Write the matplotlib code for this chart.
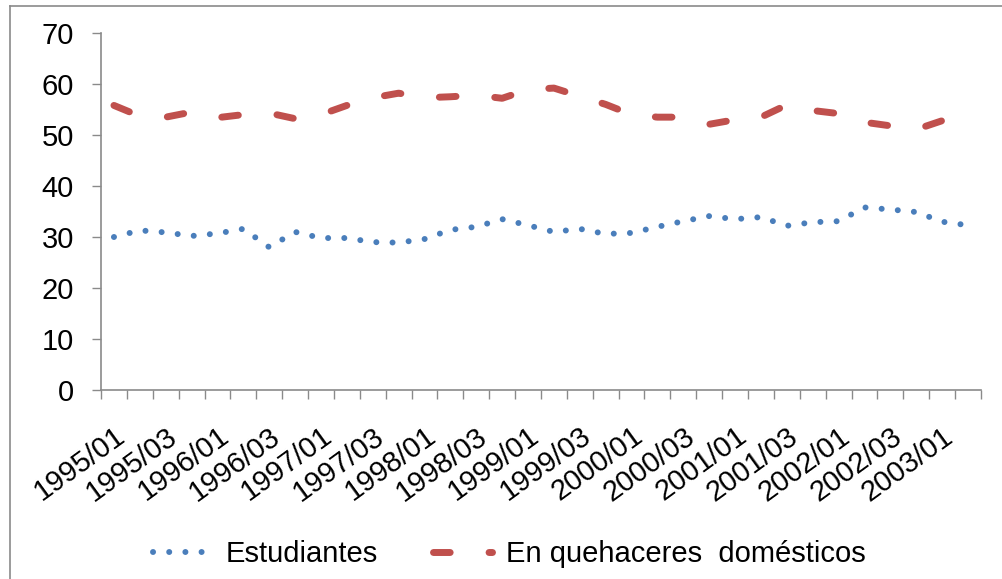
import matplotlib
matplotlib.use("Agg")
import matplotlib.pyplot as plt
from matplotlib.lines import Line2D

# ============================= DATA =============================
years = list(range(1995, 2004))
periods = [f"{y}/{q:02d}" for y in years for q in range(1, 5)][:34]

estudiantes = [30.0, 31.3, 30.9, 30.2, 30.7, 31.6, 28.0, 31.0, 29.8, 29.8,
               29.0, 28.9, 29.6, 31.4, 32.0, 33.5, 32.3, 31.0, 31.6, 30.6,
               30.8, 32.0, 33.1, 34.1, 33.5, 33.9, 32.2, 32.9, 33.1, 35.8,
               35.4, 34.9, 33.0, 32.3]

quehaceres = [55.8, 53.7, 53.5, 54.5, 53.4, 54.0, 54.3, 53.2, 54.0, 55.8,
              57.3, 58.2, 57.3, 57.5, 57.8, 57.2, 58.9, 59.2, 57.6, 56.0,
              54.0, 53.5, 53.5, 52.1, 53.0, 53.5, 55.9, 54.8, 54.2, 52.5,
              51.8, 51.1, 52.8, 52.9]

y_ticks = [0, 10, 20, 30, 40, 50, 60, 70]

# ============================= PLOT =============================
plt.rcParams["font.family"] = ["Liberation Sans", "DejaVu Sans"]
gray = "#8a8a8a"
fs = 21

fig = plt.figure(figsize=(10.03, 5.79), dpi=100)
ax = fig.add_axes([0.1007, 0.3264, 0.8773, 0.6166])

x = list(range(len(periods)))
ax.plot(x, estudiantes, color="#4a7ebb", linewidth=4.3,
        dashes=(0.01, 2.7), dash_capstyle="round", label="Estudiantes")
ax.plot(x, quehaceres, color="#c0504d", linewidth=5,
        dashes=(2.4, 5.6), dash_capstyle="round",
        label="En quehaceres  domésticos")

ax.set_xlim(-0.5, len(periods) - 0.5)
ax.set_ylim(0, 70)
ax.set_yticks(y_ticks)
ax.tick_params(axis="y", labelsize=fs, length=6.5, width=1, color=gray, pad=13)

# category boundaries as ticks, labels every other category
ax.set_xticks([i - 0.5 for i in range(len(periods) + 1)])
ax.set_xticklabels([])
ax.set_xticks(x[::2], minor=True)
ax.set_xticklabels(periods[::2], minor=True, rotation=36, ha="right",
                   rotation_mode="anchor", fontsize=fs)
ax.tick_params(axis="x", which="major", length=6.5, width=1, color=gray)
ax.tick_params(axis="x", which="minor", length=0, pad=23)

for side in ["top", "right"]:
    ax.spines[side].set_visible(False)
for side in ["left", "bottom"]:
    ax.spines[side].set_color(gray)
    ax.spines[side].set_linewidth(1.2)

fig.legend(loc="center", bbox_to_anchor=(0.508, 0.043), ncol=2, frameon=False,
           fontsize=fs, handlelength=2.0, handletextpad=0.5, columnspacing=1.9)

# outer chart frame (left and top edges visible)
fig.add_artist(Line2D([0.01, 0.01], [0, 0.9895], color=gray, linewidth=1.2))
fig.add_artist(Line2D([0.01, 1.0], [0.9895, 0.9895], color=gray, linewidth=1.2))

fig.savefig("out.png", dpi=100)
